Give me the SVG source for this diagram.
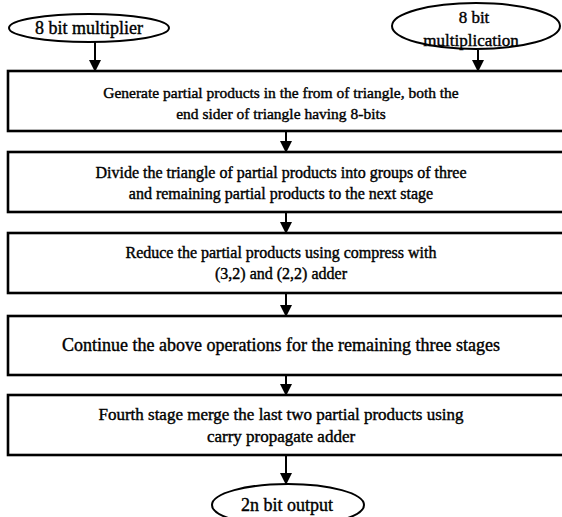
<svg xmlns="http://www.w3.org/2000/svg" width="562" height="517" viewBox="0 0 562 517">
  <defs>
    <marker id="ah" markerWidth="12" markerHeight="12" refX="11" refY="6" orient="auto" markerUnits="userSpaceOnUse">
      <path d="M0,0 L12,6 L0,12 Z" fill="#000"/>
    </marker>
    <style>
      .box{fill:#fff;stroke:#000;stroke-width:2.6}
      .ell{fill:#fff;stroke:#000;stroke-width:2}
      .t{font-family:"Liberation Serif","Times New Roman",serif;fill:#000;text-anchor:middle;stroke:#000;stroke-width:0.4}
      .con{stroke:#000;stroke-width:2;fill:none;marker-end:url(#ah)}
    </style>
  </defs>
  <rect width="562" height="517" fill="#fff"/>

  <g id="connectors">
    <line class="con" x1="95" y1="42" x2="95" y2="71"/>
    <line class="con" x1="478" y1="50" x2="478" y2="71"/>
    <line class="con" x1="286" y1="131" x2="286" y2="152"/>
    <line class="con" x1="286" y1="212" x2="286" y2="233"/>
    <line class="con" x1="286" y1="293" x2="286" y2="316"/>
    <line class="con" x1="286" y1="375" x2="286" y2="395"/>
    <line class="con" x1="286" y1="455" x2="286" y2="484"/>
  </g>

  <g id="in1">
    <ellipse class="ell" cx="89" cy="28" rx="80" ry="14"/>
    <text class="t" x="89" y="34" font-size="18">8 bit multiplier</text>
  </g>
  <g id="in2">
    <ellipse class="ell" cx="476" cy="26" rx="84" ry="23"/>
    <text class="t" x="474" y="23" font-size="17">8 bit</text>
    <text class="t" x="471" y="46" font-size="17">multiplication</text>
  </g>

  <g id="step1">
    <rect class="box" x="8" y="71" width="560" height="60"/>
    <text class="t" x="281" y="98" font-size="15.5">Generate partial products in the from of triangle, both the</text>
    <text class="t" x="281" y="119" font-size="15.5">end sider of triangle having 8-bits</text>
  </g>
  <g id="step2">
    <rect class="box" x="8" y="152" width="560" height="60"/>
    <text class="t" x="281" y="178" font-size="16">Divide the triangle of partial products into groups of three</text>
    <text class="t" x="281" y="199" font-size="16">and remaining partial products to the next stage</text>
  </g>
  <g id="step3">
    <rect class="box" x="8" y="233" width="560" height="60"/>
    <text class="t" x="281" y="258" font-size="16">Reduce the partial products using compress with</text>
    <text class="t" x="281" y="279" font-size="16">(3,2) and (2,2) adder</text>
  </g>
  <g id="step4">
    <rect class="box" x="8" y="316" width="560" height="59"/>
    <text class="t" x="281" y="351" font-size="18">Continue the above operations for the remaining three stages</text>
  </g>
  <g id="step5">
    <rect class="box" x="8" y="395" width="560" height="60"/>
    <text class="t" x="281" y="420" font-size="17">Fourth stage merge the last two partial products using</text>
    <text class="t" x="281" y="442" font-size="17">carry propagate adder</text>
  </g>

  <g id="out">
    <ellipse class="ell" cx="288" cy="505" rx="76" ry="21"/>
    <text class="t" x="287" y="511" font-size="18">2n bit output</text>
  </g>
</svg>
